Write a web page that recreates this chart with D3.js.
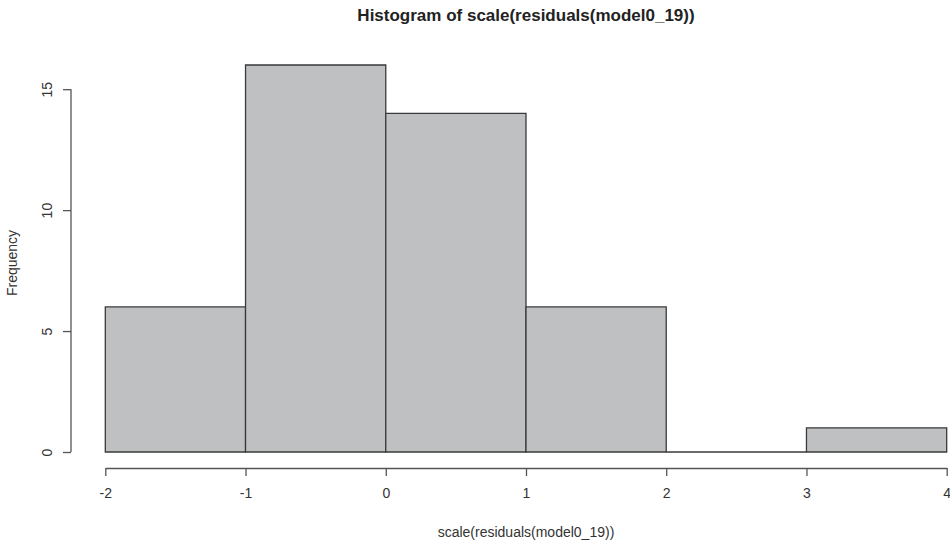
<!DOCTYPE html>
<html>
<head>
<meta charset="utf-8">
<script src="https://cdn.jsdelivr.net/npm/d3@7"></script>
<style>
  body { margin: 0; background: #fff; }
  text { font-family: "Liberation Sans", Arial, sans-serif; }
</style>
</head>
<body>
<div id="hist"></div>
<script>
const width = 950;
const height = 541;

// bin edges and counts
const binStarts = [-2, -1, 0, 1, 2, 3];
const binEnds = [-1, 0, 1, 2, 3, 4];
const counts = [6, 16, 14, 6, 0, 1];
const xTicks = [-2, -1, 0, 1, 2, 3, 4];
const yTicks = [0, 5, 10, 15];

const title = "Histogram of scale(residuals(model0_19))";
const xLabel = "scale(residuals(model0_19))";
const yLabel = "Frequency";

const xScale = d3.scaleLinear()
  .domain([-2, 4])
  .range([105.3, 946.7]);

const yScale = d3.scaleLinear()
  .domain([0, 16])
  .range([452, 65]);

const svg = d3.select("#hist")
  .append("svg")
  .attr("width", width)
  .attr("height", height);

const bins = binStarts.map((s, i) => ({ x0: s, x1: binEnds[i], n: counts[i] }));

// paths so that empty bins still show as a flat line
svg.append("g")
  .selectAll("path")
  .data(bins)
  .join("path")
  .attr("d", d => {
    const x0 = xScale(d.x0), x1 = xScale(d.x1);
    const y0 = yScale(0), y1 = yScale(d.n);
    return `M${x0},${y0}V${y1}H${x1}V${y0}Z`;
  })
  .attr("fill", "#bfc0c2")
  .attr("stroke", "#3a3a3a")
  .attr("stroke-width", 1.3);

const xAxis = d3.axisBottom(xScale)
  .tickValues(xTicks)
  .tickFormat(d => String(d))
  .tickSize(8)
  .tickPadding(12)
  .tickSizeOuter(0);

const yAxis = d3.axisLeft(yScale)
  .tickValues(yTicks)
  .tickSize(8)
  .tickPadding(6)
  .tickSizeOuter(0);

const gx = svg.append("g")
  .attr("transform", "translate(0, 468)")
  .call(xAxis);

const gy = svg.append("g")
  .attr("transform", "translate(71, 0)")
  .call(yAxis);

gy.select(".domain").attr("d", `M0,${yScale(0)}V${yScale(15)}`);

[gx, gy].forEach(g => {
  g.select(".domain").attr("stroke", "#555").attr("stroke-width", 1.3);
  g.selectAll(".tick line").attr("stroke", "#555").attr("stroke-width", 1.3);
  g.selectAll(".tick text")
    .attr("fill", "#333")
    .style("font-size", "14px");
});

gy.selectAll(".tick text")
  .attr("transform", "rotate(-90)")
  .attr("x", 0)
  .attr("y", -19)
  .attr("dy", "0")
  .attr("text-anchor", "middle");

svg.append("text")
  .attr("x", 526)
  .attr("y", 21)
  .attr("text-anchor", "middle")
  .style("font-size", "17px")
  .style("font-weight", "bold")
  .attr("fill", "#222")
  .text(title);

svg.append("text")
  .attr("x", 526)
  .attr("y", 537)
  .attr("text-anchor", "middle")
  .style("font-size", "14px")
  .attr("fill", "#333")
  .text(xLabel);

svg.append("text")
  .attr("transform", "translate(17, 263) rotate(-90)")
  .attr("text-anchor", "middle")
  .style("font-size", "14px")
  .attr("fill", "#333")
  .text(yLabel);
</script>
</body>
</html>
